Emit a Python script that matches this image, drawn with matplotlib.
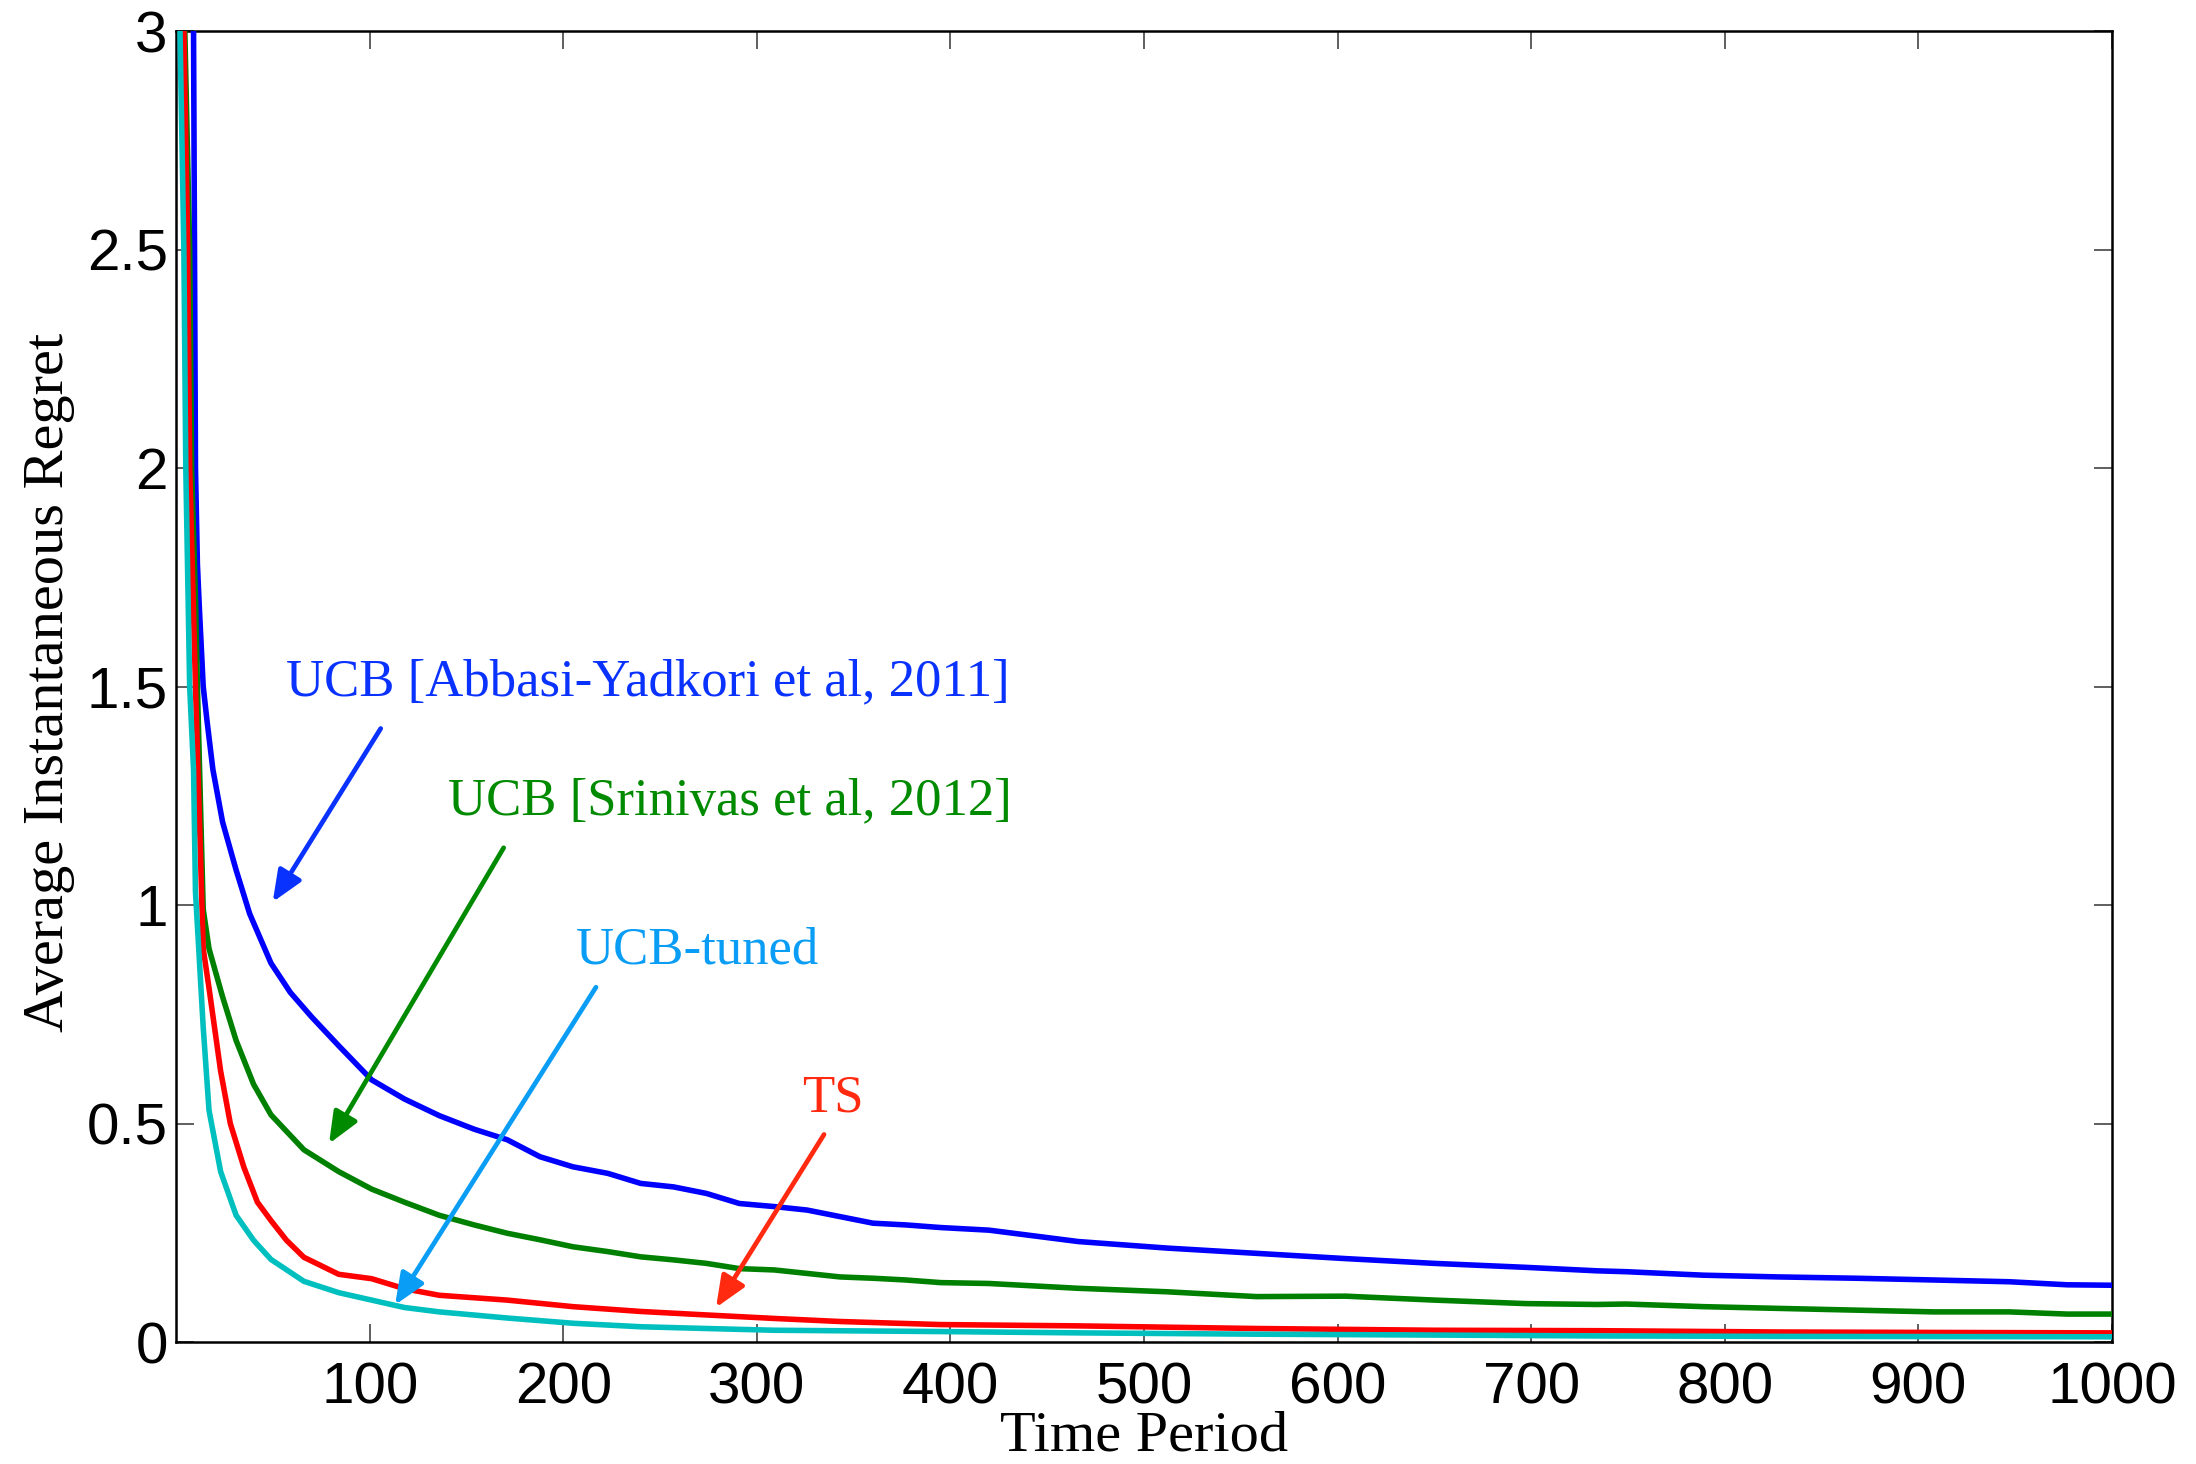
import matplotlib
matplotlib.use("Agg")
import matplotlib.pyplot as plt

# values (time period -> average instantaneous regret)
t_abbasi = [1, 8, 9, 10, 11, 12, 14, 16, 19, 24, 31, 38, 49, 59, 70, 84, 101,
            118, 136, 154, 171, 188, 205, 223, 240, 257, 274, 291, 309, 326,
            343, 360, 377, 395, 420, 466, 512, 558, 604, 650, 697, 734, 749,
            789, 828, 868, 908, 947, 977, 1000]
r_abbasi = [5.0, 3.8, 3.0, 2.0, 1.78, 1.68, 1.5, 1.42, 1.31, 1.19, 1.08, 0.98,
            0.867, 0.80, 0.744, 0.678, 0.60, 0.556, 0.518, 0.487, 0.463, 0.424,
            0.401, 0.386, 0.363, 0.355, 0.34, 0.317, 0.31, 0.302, 0.287, 0.272,
            0.268, 0.262, 0.256, 0.23, 0.215, 0.203, 0.191, 0.18, 0.171, 0.163,
            0.161, 0.153, 0.149, 0.146, 0.142, 0.138, 0.131, 0.13]

t_srinivas = [1, 4, 7, 8, 10, 11, 14, 17, 24, 31, 40, 49, 66, 84, 101, 118, 136,
              154, 171, 188, 205, 223, 240, 257, 274, 291, 309, 326, 343, 360,
              377, 395, 420, 466, 512, 558, 604, 650, 697, 734, 749, 789, 828,
              868, 908, 947, 977, 1000]
r_srinivas = [4.5, 3.1, 2.5, 2.0, 1.7, 1.5, 0.99, 0.9, 0.79, 0.69, 0.59, 0.52,
              0.44, 0.39, 0.35, 0.32, 0.29, 0.268, 0.249, 0.234, 0.218, 0.207,
              0.195, 0.188, 0.18, 0.168, 0.165, 0.157, 0.149, 0.146, 0.142,
              0.136, 0.134, 0.123, 0.115, 0.104, 0.105, 0.096, 0.088, 0.086,
              0.087, 0.081, 0.077, 0.073, 0.069, 0.069, 0.064, 0.064]

t_ts = [1, 4, 6, 7, 10, 14, 17, 23, 28, 35, 42, 49, 57, 66, 84, 101, 118, 136,
        171, 205, 240, 274, 309, 343, 395, 466, 558, 650, 734, 828, 908, 1000]
r_ts = [4.2, 3.0, 2.5, 2.0, 1.5, 0.9, 0.81, 0.62, 0.5, 0.4, 0.32, 0.278,
        0.233, 0.194, 0.155, 0.145, 0.122, 0.107, 0.096, 0.081, 0.07, 0.062,
        0.054, 0.047, 0.04, 0.037, 0.031, 0.027, 0.026, 0.023, 0.022, 0.021]

t_tuned = [1, 2, 4, 5, 7, 9, 10, 14, 17, 23, 31, 40, 49, 66, 84, 101, 118, 136,
           171, 205, 240, 274, 309, 395, 466, 558, 650, 734, 828, 1000]
r_tuned = [3.6, 3.0, 2.5, 2.0, 1.5, 1.31, 1.03, 0.72, 0.53, 0.39, 0.29, 0.233,
           0.189, 0.139, 0.113, 0.096, 0.079, 0.069, 0.055, 0.043, 0.035,
           0.031, 0.027, 0.024, 0.021, 0.018, 0.016, 0.014, 0.013, 0.012]

x_ticks = [100, 200, 300, 400, 500, 600, 700, 800, 900, 1000]
y_ticks = [0, 0.5, 1, 1.5, 2, 2.5, 3]

serif = ["Liberation Serif", "DejaVu Serif"]
sans = ["Liberation Sans", "DejaVu Sans"]

fig = plt.figure(figsize=(10.98, 7.32), dpi=200)
ax = fig.add_axes([0.0802, 0.0833, 0.8815, 0.8955])

ax.plot(t_abbasi, r_abbasi, color="#0000ff", lw=2.0, zorder=3)
ax.plot(t_srinivas, r_srinivas, color="#008000", lw=2.0, zorder=3)
ax.plot(t_ts, r_ts, color="#ff0000", lw=2.0, zorder=3)
ax.plot(t_tuned, r_tuned, color="#00bfbf", lw=2.0, zorder=3)

ax.set_xlim(0, 1000)
ax.set_ylim(0, 3)
ax.set_xticks(x_ticks)
ax.set_yticks(y_ticks)
ax.set_yticklabels(["0", "0.5", "1", "1.5", "2", "2.5", "3"])
ax.tick_params(direction="in", length=6.5, width=0.6, color="#444444",
               top=True, right=True, labelsize=21)
ax.tick_params(axis="x", pad=7)
ax.tick_params(axis="y", pad=3)
for lbl in ax.get_xticklabels() + ax.get_yticklabels():
    lbl.set_family(sans)
for s in ax.spines.values():
    s.set_linewidth(0.9)

ax.set_xlabel("Time Period", family=serif, fontsize=21)
ax.set_ylabel("Average Instantaneous Regret", family=serif, fontsize=21)
ax.xaxis.set_label_coords(0.5, -0.052)
ax.yaxis.set_label_coords(-0.052, 0.503)

# annotations: label text + arrow pointing at curve
notes = [
    ("UCB [Abbasi-Yadkori et al, 2011]", (56.7, 1.48), (105.7, 1.404), (49.9, 1.007), "#0a32ff"),
    ("UCB [Srinivas et al, 2012]", (140.5, 1.2075), (169.2, 1.131), (79.0, 0.454), "#008a00"),
    ("UCB-tuned", (206.6, 0.867), (216.9, 0.812), (113.1, 0.085), "#0a9df5"),
    ("TS", (323.2, 0.527), (334.7, 0.475), (278.9, 0.079), "#ff2a10"),
]
for label, pos, tail, head, col in notes:
    ax.text(pos[0], pos[1], label, color=col, family=serif, fontsize=19,
            ha="left", va="baseline", zorder=5)
    ax.annotate("", xy=head, xytext=tail, zorder=4,
                arrowprops=dict(arrowstyle="-|>,head_length=9.5,head_width=4",
                                mutation_scale=1, lw=1.7, color=col,
                                shrinkA=0, shrinkB=0))

fig.savefig("out.png", dpi=200)
